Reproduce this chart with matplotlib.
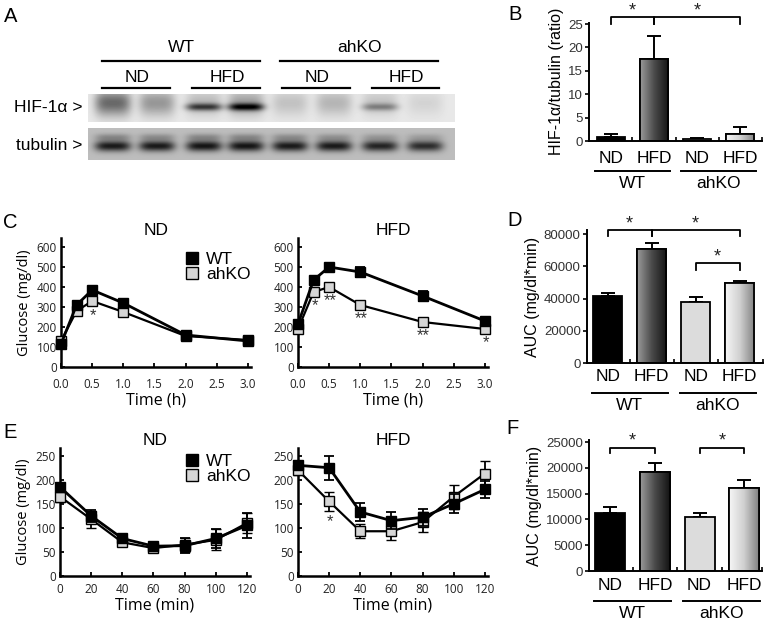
import numpy as np
import matplotlib
matplotlib.use('Agg')
import matplotlib.pyplot as plt
from matplotlib.lines import Line2D
from matplotlib.colors import LinearSegmentedColormap

W, H = 770, 624
plt.rcParams['font.family'] = ['Liberation Sans', 'DejaVu Sans']

# ---------------- data ----------------
# A: western blot band densities (0 = no band), 8 lanes: WT ND x2, WT HFD x2, ahKO ND x2, ahKO HFD x2
hif_sharp = [0.0, 0.0, 0.55, 0.70, 0.0, 0.0, 0.30, 0.0]
hif_diffuse = [0.50, 0.32, 0.18, 0.28, 0.15, 0.20, 0.14, 0.08]
tub_main = [0.64, 0.64, 0.66, 0.66, 0.64, 0.64, 0.60, 0.57]
tub_upper = [0.18, 0.16, 0.18, 0.18, 0.16, 0.14, 0.12, 0.10]

diets = ['ND', 'HFD', 'ND', 'HFD']
genotypes = ['WT', 'ahKO']

# B: HIF-1a / tubulin ratio
hif_ratio = [0.85, 17.5, 0.35, 1.6]
hif_ratio_err = [0.6, 5.0, 0.3, 1.4]

# C: GTT
gtt_t = [0, 0.25, 0.5, 1, 2, 3]
gtt_nd_wt = [115, 310, 385, 320, 160, 130]
gtt_nd_wt_err = [10, 12, 12, 15, 8, 8]
gtt_nd_ko = [130, 280, 330, 275, 155, 135]
gtt_nd_ko_err = [8, 10, 10, 10, 8, 8]
gtt_nd_stars = ['', '', '*', '', '', '']
gtt_hfd_wt = [215, 435, 500, 475, 355, 230]
gtt_hfd_wt_err = [12, 15, 10, 25, 25, 12]
gtt_hfd_ko = [190, 375, 400, 310, 225, 190]
gtt_hfd_ko_err = [8, 10, 10, 8, 8, 8]
gtt_hfd_stars = ['', '*', '**', '**', '**', '*']

# D: GTT AUC
gtt_auc = [41500, 70500, 38000, 49500]
gtt_auc_err = [1700, 4100, 2700, 1600]

# E: ITT
itt_t = [0, 20, 40, 60, 80, 100, 120]
itt_nd_wt = [185, 125, 78, 62, 63, 78, 105]
itt_nd_wt_err = [8, 12, 8, 5, 15, 20, 25]
itt_nd_ko = [165, 118, 70, 58, 65, 75, 110]
itt_nd_ko_err = [12, 18, 8, 8, 15, 22, 20]
itt_nd_stars = [''] * 7
itt_hfd_wt = [230, 225, 133, 115, 122, 150, 180]
itt_hfd_wt_err = [10, 25, 18, 18, 18, 20, 18]
itt_hfd_ko = [220, 155, 93, 93, 112, 165, 213]
itt_hfd_ko_err = [10, 20, 15, 18, 20, 25, 25]
itt_hfd_stars = ['', '*', '', '', '', '', '']

# F: ITT AUC
itt_auc = [11200, 19200, 10500, 16000]
itt_auc_err = [1150, 1750, 800, 1600]


def rect(x0, y0, x1, y1):
    return [x0 / W, 1 - y1 / H, (x1 - x0) / W, (y1 - y0) / H]


fig = plt.figure(figsize=(W / 100, H / 100), dpi=100)

# overlay in pixel coordinates for panel letters and blot
ov = fig.add_axes([0, 0, 1, 1], zorder=0)
ov.axis('off')

for letter, x, y in [('A', 11, 17), ('B', 515, 15), ('C', 10, 223),
                     ('D', 515, 220), ('E', 10, 433), ('F', 513, 428)]:
    ov.text(x, y, letter, fontsize=14.5, ha='center', va='center')

# ---------------- A: blot ----------------
lane_x = [25, 69, 116, 158, 202, 246, 292, 337]


def strip(w, h, bg, parts):
    xs = np.arange(w) + 0.5
    ys = np.arange(h) + 0.5
    img = np.full((h, w), bg)
    for amps, yc, sy in parts:
        for cx, a in zip(lane_x, amps):
            gx = np.exp(-((xs - cx) / 18.0) ** 4)
            gy = np.exp(-0.5 * ((ys - yc) / sy) ** 2)
            img -= a * gy[:, None] * gx[None, :]
    return np.clip(img, 0, 1)


hif_img = strip(367, 28, 0.91, [(hif_diffuse, 9, 9), (hif_sharp, 13, 2.6)])
tub_img = strip(367, 32, 0.74, [(tub_main, 18, 3.8), (tub_upper, 9, 2.5)])
ov.imshow(hif_img, extent=(88, 455, 122, 94), cmap='gray', vmin=0, vmax=1,
          aspect='auto', interpolation='bilinear')
ov.imshow(tub_img, extent=(88, 455, 160, 128), cmap='gray', vmin=0, vmax=1,
          aspect='auto', interpolation='bilinear')
ov.set_xlim(0, W)
ov.set_ylim(H, 0)

ov.text(82, 108, 'HIF-1α >', fontsize=12.5, ha='right', va='center')
ov.text(82, 146, 'tubulin >', fontsize=12.5, ha='right', va='center')
for (x0, x1), lab in zip([(102, 260), (280, 438)], genotypes):
    ov.plot([x0, x1], [61, 61], color='k', lw=1.6)
    ov.text((x0 + x1) / 2, 48, lab, fontsize=12.5, ha='center', va='center')
for (x0, x1), lab in zip([(102, 170), (192, 260), (282, 350), (372, 439)], diets):
    ov.plot([x0, x1], [88, 88], color='k', lw=1.6)
    ov.text((x0 + x1) / 2 + 1, 77, lab, fontsize=12.5, ha='center', va='center')

# ---------------- bar panels ----------------
cm_wt_hfd = LinearSegmentedColormap.from_list('wh', ['#9a9a9a', '#4a4a4a', '#141414'])
cm_ko_hfd = LinearSegmentedColormap.from_list('kh', ['#f6f6f6', '#d0d0d0', '#828282'])
bar_fill = ['#000000', None, '#dcdcdc', None]
bar_grad = [None, cm_wt_hfd, None, cm_ko_hfd]


def bar_panel(r, vals, errs, ylim, yticks, xlim, ylabel, label_pad, brackets, ax_h):
    ax = fig.add_axes(rect(*r), zorder=2)
    ax.patch.set_visible(False)
    xs = np.arange(4)
    bw = 0.67
    bars = ax.bar(xs, vals, width=bw, color=[c if c else 'none' for c in bar_fill],
                  edgecolor='k', linewidth=1.3, zorder=2)
    for b, cm in zip(bars, bar_grad):
        if cm is None:
            continue
        grad = np.linspace(0, 1, 64)[None, :]
        x0 = b.get_x()
        im = ax.imshow(grad, extent=(x0, x0 + b.get_width(), 0, b.get_height()),
                       cmap=cm, aspect='auto', zorder=2.1)
        im.set_clip_path(b)
        ax.bar(b.get_x() + bw / 2, b.get_height(), width=bw, color='none',
               edgecolor='k', linewidth=1.3, zorder=2.2)
    ax.errorbar(xs, vals, yerr=[[0] * 4, errs], fmt='none', ecolor='k',
                elinewidth=1.4, capsize=5, capthick=1.4, zorder=1.5)
    ax.set_xlim(*xlim)
    ax.set_ylim(*ylim)
    ax.set_yticks(yticks)
    ax.tick_params(axis='y', direction='out', length=3, width=1.2, labelsize=9.5,
                   labelcolor='#333333', pad=1.5)
    ax.set_xticks(xs)
    ax.set_xticklabels(diets, fontsize=12.5)
    ax.tick_params(axis='x', which='major', length=0, pad=label_pad)
    ax.set_xticks([0.5, 1.5, 2.5, xlim[1]], minor=True)
    ax.tick_params(axis='x', which='minor', direction='in', length=3, width=1.2)
    for s in ['top', 'right']:
        ax.spines[s].set_visible(False)
    for s in ['left', 'bottom']:
        ax.spines[s].set_linewidth(1.4)
    ax.set_ylabel(ylabel, fontsize=11.5, labelpad=3)
    # genotype lines and labels
    xt = ax.get_xaxis_transform()
    for g, lab in enumerate(genotypes):
        x0 = 2 * g - bw / 2 - 0.03
        x1 = 2 * g + 1 + bw / 2 + 0.03
        ax.plot([x0, x1], [-30 / ax_h] * 2, transform=xt, clip_on=False, color='k', lw=1.4)
        ax.text((x0 + x1) / 2, -42 / ax_h, lab, transform=xt, fontsize=12.5,
                ha='center', va='center')
    for a, b, yl, yh, ys in brackets:
        ax.plot([a, a, b, b], [yl, yh, yh, yl], color='k', lw=1.3, clip_on=False)
        ax.text((a + b) / 2, ys, '*', fontsize=13, ha='center', va='center',
                color='#222222')
    return ax


bar_panel((589, 22.6, 762, 141), hif_ratio, hif_ratio_err, (0, 25.3), [0, 5, 10, 15, 20, 25],
          (-0.51, 3.51), 'HIF-1α/tubulin (ratio)', 7.0,
          [(0, 1, 25.0, 26.4, 27.8), (1, 3, 25.0, 26.4, 27.8)], 118.4)
bar_panel((587, 230, 763, 363), gtt_auc, gtt_auc_err, (0, 82500),
          [0, 20000, 40000, 60000, 80000], (-0.47, 3.53), 'AUC (mg/dl*min)', 4.5,
          [(0, 1, 78800, 82400, 86500), (1, 3, 78800, 82400, 86500),
           (2, 3, 57700, 62000, 66000)], 133)
bar_panel((589, 440, 762, 571), itt_auc, itt_auc_err, (0, 25400),
          [0, 5000, 10000, 15000, 20000, 25000], (-0.48, 3.4), 'AUC (mg/dl*min)', 5.0,
          [(0, 1, 22850, 23850, 25300), (2, 3, 22850, 23850, 25300)], 131)

# ---------------- line panels ----------------
tick_font = {'family': 'Open Sans', 'size': 8.5}


def line_panel(r, t, wt, wt_e, ko, ko_e, stars, xlim, ylim, xticks, xfmt, yticks,
               title, xlabel, ylabel, star_off, xpad):
    ax = fig.add_axes(rect(*r), zorder=2)
    ax.patch.set_visible(False)
    ax.errorbar(t, ko, yerr=ko_e, color='k', lw=1.6, marker='s', ms=7.5, mfc='#d6d6d6',
                mec='k', mew=1.0, ecolor='k', elinewidth=1.3, capsize=3.5, capthick=1.3,
                clip_on=False, zorder=3)
    ax.errorbar(t, wt, yerr=wt_e, color='k', lw=2.0, marker='s', ms=7.5, mfc='k',
                mec='k', ecolor='k', elinewidth=1.3, capsize=3.5, capthick=1.3,
                clip_on=False, zorder=4)
    for x, y, s in zip(t, ko, stars):
        if s:
            ax.annotate(s, (x, y), xytext=(1, star_off), textcoords='offset pixels',
                        ha='center', va='center', fontsize=12, color='#333333')
    ax.set_xlim(*xlim)
    ax.set_ylim(*ylim)
    ax.set_xticks(xticks)
    ax.set_xticklabels([xfmt.format(v) for v in xticks], fontdict=tick_font)
    ax.set_yticks(yticks)
    ax.set_yticklabels([str(v) for v in yticks], fontdict=tick_font)
    ax.tick_params(direction='in', length=3, width=1.3, pad=3, labelcolor='#222222')
    ax.tick_params(axis='x', pad=xpad)
    for s in ['top', 'right']:
        ax.spines[s].set_visible(False)
    for s in ['left', 'bottom']:
        ax.spines[s].set_linewidth(1.8)
    ax.set_title(title, fontsize=12.5, pad=-1)
    ax.set_xlabel(xlabel, family='Open Sans', fontsize=11.5, labelpad=1)
    if ylabel:
        ax.set_ylabel(ylabel, family='Open Sans', fontsize=10.5, labelpad=3)
    return ax


c_xt = [0, 0.5, 1.0, 1.5, 2.0, 2.5, 3.0]
c_yt = [0, 100, 200, 300, 400, 500, 600]
e_xt = [0, 20, 40, 60, 80, 100, 120]
e_yt = [0, 50, 100, 150, 200, 250]

axC1 = line_panel((61, 238, 251, 367), gtt_t, gtt_nd_wt, gtt_nd_wt_err, gtt_nd_ko, gtt_nd_ko_err,
                  gtt_nd_stars, (0, 3.05), (0, 645), c_xt, '{:.1f}', c_yt, 'ND', 'Time (h)',
                  'Glucose (mg/dl)', -15, 8)
line_panel((298, 238, 488, 367), gtt_t, gtt_hfd_wt, gtt_hfd_wt_err, gtt_hfd_ko, gtt_hfd_ko_err,
           gtt_hfd_stars, (0, 3.05), (0, 645), c_xt, '{:.1f}', c_yt, 'HFD', 'Time (h)', None,
           -14, 8)
axE1 = line_panel((60, 448, 250, 576), itt_t, itt_nd_wt, itt_nd_wt_err, itt_nd_ko, itt_nd_ko_err,
                  itt_nd_stars, (0, 122), (0, 266), e_xt, '{:d}', e_yt, 'ND', 'Time (min)',
                  'Glucose (mg/dl)', -15, 5)
line_panel((298, 448, 488, 576), itt_t, itt_hfd_wt, itt_hfd_wt_err, itt_hfd_ko, itt_hfd_ko_err,
           itt_hfd_stars, (0, 122), (0, 266), e_xt, '{:d}', e_yt, 'HFD', 'Time (min)', None,
           -20, 5)

handles = [Line2D([], [], ls='none', marker='s', ms=8, mfc='k', mec='k'),
           Line2D([], [], ls='none', marker='s', ms=8, mfc='#d6d6d6', mec='k', mew=1.0)]
for ax, ytop in [(axC1, 252), (axE1, 454)]:
    ax.legend(handles, genotypes, loc='upper left', bbox_to_anchor=(185 / W, 1 - ytop / H),
              bbox_transform=fig.transFigure, frameon=False, fontsize=12.5,
              handlelength=0.8, handletextpad=0.4, labelspacing=0.0, borderpad=0,
              borderaxespad=0)

fig.savefig('out.png', dpi=100)
